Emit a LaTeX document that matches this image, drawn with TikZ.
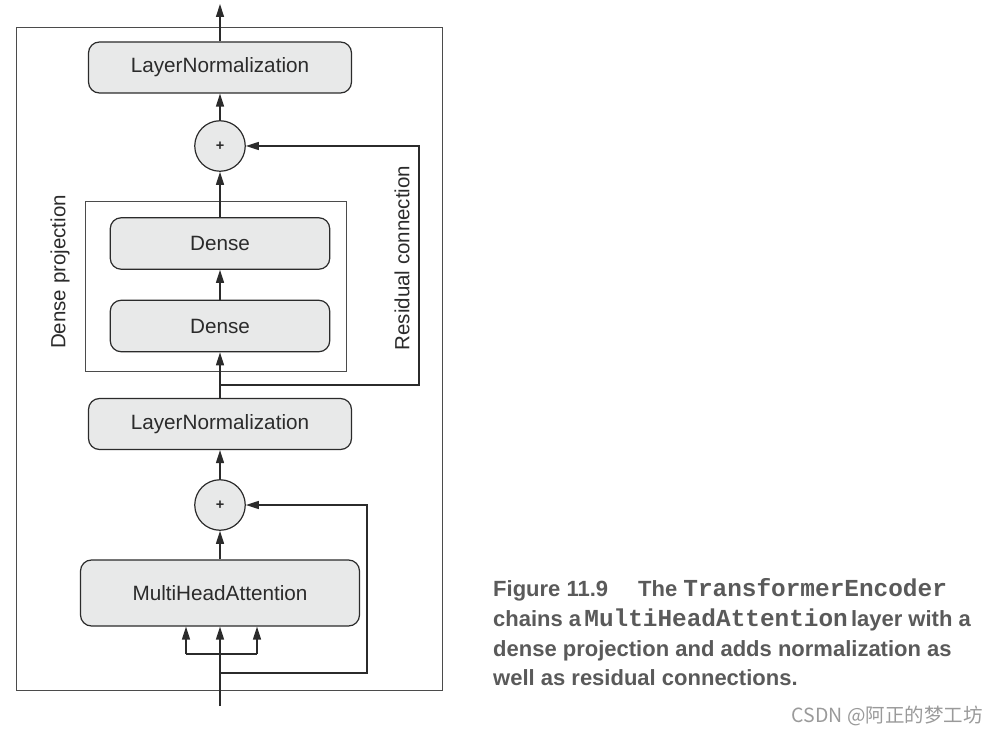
\documentclass[tikz,border=0pt]{standalone}
\usepackage{fontspec}
\setmainfont{Liberation Sans}
\newfontfamily\capmono{Liberation Mono}
\newfontfamily\cjk{Noto Sans CJK SC}
\usetikzlibrary{arrows.meta}
\definecolor{boxfill}{HTML}{E8E9E9}
\definecolor{linecol}{HTML}{2B2B2B}
\definecolor{capcol}{HTML}{5A5A5A}
\definecolor{wmcol}{HTML}{9A9A9A}
\begin{document}
\begin{tikzpicture}[x=1pt,y=-1pt,
  layerbox/.style={draw=linecol, line width=1.2pt, fill=boxfill, rounded corners=11pt,
    inner sep=0pt, font=\fontsize{20.7}{24}\selectfont, text=linecol},
  addnode/.style={circle, draw=linecol, line width=1.2pt, fill=boxfill, minimum size=50.5pt,
    inner sep=0pt, font=\fontsize{14.5}{16}\selectfont\bfseries, text=linecol},
  framebox/.style={draw=linecol!85, line width=0.9pt, inner sep=0pt},
  arr/.style={draw=linecol, line width=1.3pt, -{Triangle[length=13pt,width=8pt]}},
  ln/.style={draw=linecol, line width=1.3pt},
  sidelabel/.style={rotate=90, font=\fontsize{20.5}{24}\selectfont, text=linecol},
  capline/.style={anchor=base west, inner sep=0pt, text=capcol, font=\fontsize{22}{26}\selectfont\bfseries},
]
\useasboundingbox (0,0) rectangle (999,735);
% outer frame
\node[framebox, minimum width=426pt, minimum height=663pt] (outer) at (229,358.5) {};
% nodes
\node[layerbox, minimum width=263pt, minimum height=51pt] (ln2) at (220,67.5) {LayerNormalization};
\node[addnode] (add2) at (220,146) {+};
\node[framebox, minimum width=261pt, minimum height=170pt] (dproj) at (215.5,286) {};
\node[layerbox, minimum width=219.5pt, minimum height=51.5pt] (dense2) at (220,243.5) {Dense};
\node[layerbox, minimum width=219.5pt, minimum height=51.5pt] (dense1) at (220,326) {Dense};
\node[layerbox, minimum width=263pt, minimum height=51pt] (ln1) at (220,424) {LayerNormalization};
\node[addnode] (add1) at (220,505) {+};
\node[layerbox, minimum width=279pt, minimum height=66pt] (mha) at (220,593) {MultiHeadAttention};
% labels
\node[sidelabel] (dplabel) at (60,272) {Dense projection};
\node[sidelabel] (rclabel) at (402,258) {Residual connection};
% coordinates
\coordinate (out) at (220,4);
\coordinate (j2) at (220,385);
\coordinate (r2) at (419,385);
\coordinate (in) at (220,706);
\coordinate (j1) at (220,673);
\coordinate (r1) at (367,673);
\coordinate (bl) at (186,654);
\coordinate (br) at (257,654);
% connectors
\draw[arr] (ln2.north) -- (out);
\draw[arr] (add2.north) -- (ln2.south);
\draw[arr] (dense2.north) -- (add2.south);
\draw[arr] (dense1.north) -- (dense2.south);
\draw[arr] (ln1.north) -- (dense1.south);
\draw[arr] (j2) -- (r2) |- (add2.east);
\draw[arr] (add1.north) -- (ln1.south);
\draw[arr] (mha.north) -- (add1.south);
\draw[arr] (in) -- (mha.south);
\draw[arr] (j1) -- (r1) |- (add1.east);
\draw[ln] (bl) -- (br);
\draw[arr] (bl) -- (bl |- mha.south);
\draw[arr] (br) -- (br |- mha.south);
% caption
\node[capline] (cap1) at (493,596) {Figure 11.9\hspace{30pt}The {\capmono\fontsize{24.4}{26}\selectfont TransformerEncoder}};
\node[capline] (cap2) at (493,626.5) {chains a\hspace{-3pt} {\capmono\fontsize{24.4}{26}\selectfont MultiHeadAttention}\hspace{-3pt} layer with a};
\node[capline] (cap3) at (493,656) {dense projection and adds normalization as};
\node[capline] (cap4) at (493,685.5) {well as residual connections.};
\node[anchor=base east, inner sep=0pt, text=wmcol, font=\cjk\fontsize{19.5}{22}\selectfont] (wm) at (983,722) {CSDN @阿正的梦工坊};
\end{tikzpicture}
\end{document}
